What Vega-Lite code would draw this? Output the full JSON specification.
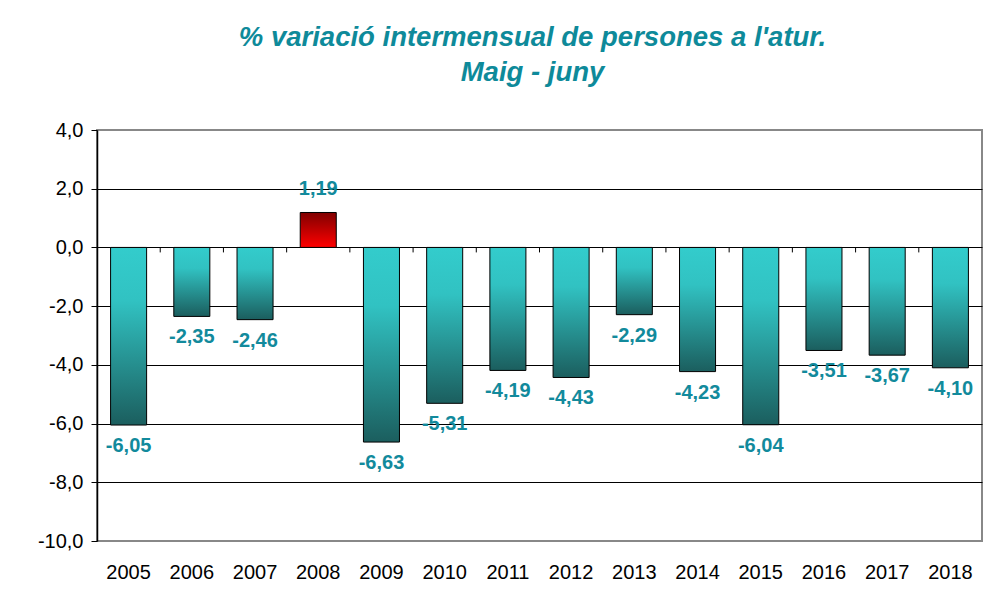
{
  "$schema": "https://vega.github.io/schema/vega-lite/v6.json",
  "width": 885,
  "height": 411,
  "autosize": {"type": "none"},
  "padding": {"left": 97, "top": 130, "right": 7, "bottom": 66},
  "background": "white",
  "config": {
    "font": "Liberation Sans",
    "view": {"stroke": "#888888", "strokeWidth": 2},
    "locale": {
      "number": {"decimal": ",", "thousands": ".", "grouping": [3], "currency": ["", " €"], "minus": "-"}
    }
  },
  "title": {
    "text": ["% variació intermensual de persones a l'atur.", "Maig - juny"],
    "font": "Liberation Sans",
    "fontSize": 27.5,
    "fontWeight": "bold",
    "fontStyle": "italic",
    "color": "#0E8A9A",
    "lineHeight": 35,
    "anchor": "middle",
    "dx": -7,
    "offset": 34
  },
  "data": {
    "values": [
      {"year": "2005", "value": -6.05},
      {"year": "2006", "value": -2.35},
      {"year": "2007", "value": -2.46},
      {"year": "2008", "value": 1.19},
      {"year": "2009", "value": -6.63},
      {"year": "2010", "value": -5.31},
      {"year": "2011", "value": -4.19},
      {"year": "2012", "value": -4.43},
      {"year": "2013", "value": -2.29},
      {"year": "2014", "value": -4.23},
      {"year": "2015", "value": -6.04},
      {"year": "2016", "value": -3.51},
      {"year": "2017", "value": -3.67},
      {"year": "2018", "value": -4.10}
    ]
  },
  "encoding": {
    "x": {
      "field": "year",
      "type": "ordinal",
      "axis": null,
      "scale": {"paddingInner": 0.43, "paddingOuter": 0.215}
    },
    "y": {
      "field": "value",
      "type": "quantitative",
      "scale": {"domain": [-10, 4], "nice": false, "zero": false}
    }
  },
  "layer": [
    {
      "transform": [{"filter": "datum.value < 0"}],
      "mark": {
        "type": "bar",
        "stroke": "black",
        "strokeWidth": 1,
        "color": {
          "gradient": "linear",
          "x1": 0, "y1": 0, "x2": 0, "y2": 1,
          "stops": [
            {"offset": 0, "color": "#33CCCC"},
            {"offset": 0.3, "color": "#31C2C2"},
            {"offset": 1, "color": "#1B5E5E"}
          ]
        }
      },
      "encoding": {
        "x": {
          "field": "year",
          "type": "ordinal",
          "title": null,
          "axis": {
            "orient": "bottom",
            "domain": false,
            "ticks": false,
            "labelAngle": 0,
            "labelFontSize": 20,
            "labelColor": "black",
            "labelPadding": 21,
            "labelFont": "Liberation Sans"
          }
        },
        "y": {
          "field": "value",
          "type": "quantitative",
          "title": null,
          "axis": {
            "values": [-10, -8, -6, -4, -2, 0, 2, 4],
            "format": ".1f",
            "labelFontSize": 20,
            "labelColor": "black",
            "labelFont": "Liberation Sans",
            "labelPadding": 8,
            "tickSize": 6,
            "tickColor": "black",
            "domainColor": "black",
            "domainWidth": 1.5,
            "grid": true,
            "gridColor": {
              "condition": {"test": "datum.value == 4 || datum.value == -10", "value": "#888888"},
              "value": "black"
            },
            "gridWidth": 1
          }
        }
      }
    },
    {
      "transform": [{"filter": "datum.value > 0"}],
      "mark": {
        "type": "bar",
        "stroke": "black",
        "strokeWidth": 1,
        "color": {
          "gradient": "linear",
          "x1": 0, "y1": 0, "x2": 0, "y2": 1,
          "stops": [
            {"offset": 0, "color": "#800000"},
            {"offset": 1, "color": "#FF0000"}
          ]
        }
      }
    },
    {
      "transform": [{"filter": "datum.year != '2005'"}],
      "mark": {"type": "rule", "stroke": "black", "strokeWidth": 1},
      "encoding": {
        "x": {"field": "year", "type": "ordinal", "bandPosition": -0.377},
        "y": {"datum": 0},
        "y2": {"datum": -0.17}
      }
    },
    {
      "transform": [{"filter": "datum.value < 0"}],
      "mark": {
        "type": "text",
        "baseline": "middle",
        "align": "center",
        "dy": 21,
        "fontSize": 20,
        "fontWeight": "bold",
        "color": "#128A9C",
        "font": "Liberation Sans"
      },
      "encoding": {
        "text": {"field": "value", "type": "quantitative", "format": ".2f"}
      }
    },
    {
      "transform": [{"filter": "datum.value > 0"}],
      "mark": {
        "type": "text",
        "baseline": "middle",
        "align": "center",
        "dy": -23,
        "fontSize": 20,
        "fontWeight": "bold",
        "color": "#128A9C",
        "font": "Liberation Sans"
      },
      "encoding": {
        "text": {"field": "value", "type": "quantitative", "format": ".2f"}
      }
    }
  ],
  "resolve": {"axis": {"x": "independent"}}
}
